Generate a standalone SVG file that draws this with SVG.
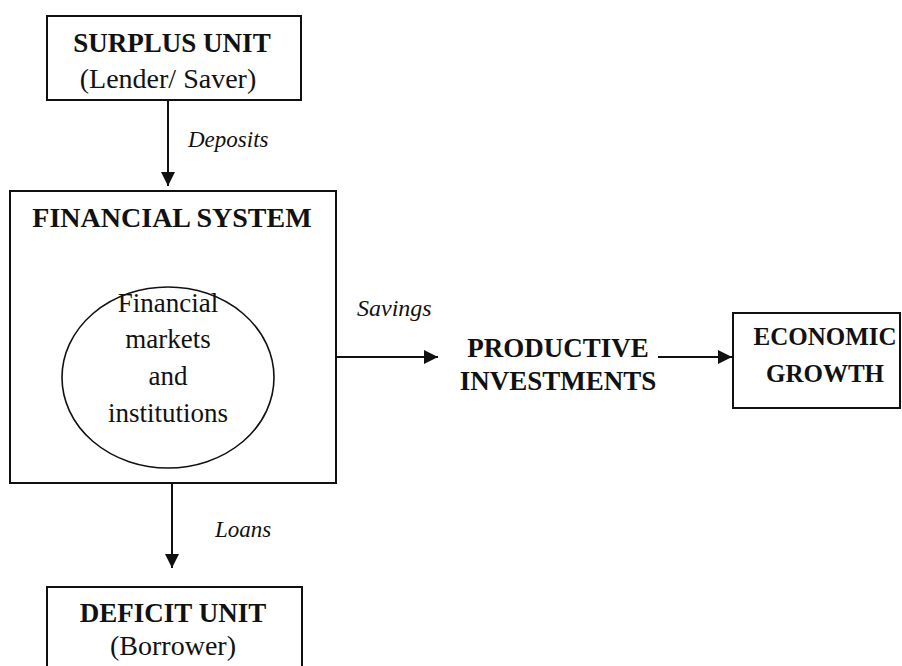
<svg xmlns="http://www.w3.org/2000/svg" width="902" height="666" viewBox="0 0 902 666">
<style>
.box{fill:#fff;stroke:#111;stroke-width:2}
.b{font-family:"Liberation Serif","Times New Roman",serif;font-weight:bold;fill:#111;text-anchor:middle}
.r{font-family:"Liberation Serif","Times New Roman",serif;fill:#111;text-anchor:middle}
.i{font-family:"Liberation Serif","Times New Roman",serif;font-style:italic;fill:#111}
.ln{stroke:#111;stroke-width:2;fill:none}
</style>
<defs>
<marker id="ah" viewBox="0 0 14 14" refX="14" refY="7" markerWidth="14" markerHeight="14" markerUnits="userSpaceOnUse" orient="auto">
<path d="M0,0 L14,7 L0,14 Z" fill="#111"/>
</marker>
</defs>
<rect width="902" height="666" fill="#fff"/>
<g id="surplus">
<rect class="box" x="47" y="16" width="254" height="84"/>
<text class="b" x="172" y="52" font-size="27">SURPLUS UNIT</text>
<text class="r" x="168" y="88" font-size="28">(Lender/ Saver)</text>
</g>
<g id="financial-system">
<rect class="box" x="10" y="191" width="326" height="292"/>
<text class="b" x="172" y="227" font-size="28">FINANCIAL SYSTEM</text>
</g>
<g id="markets">
<ellipse cx="168" cy="377.5" rx="106" ry="90.5" fill="#fff" stroke="#111" stroke-width="1.6"/>
<text class="r" x="168" y="312" font-size="27">Financial</text>
<text class="r" x="168" y="348" font-size="27">markets</text>
<text class="r" x="168" y="385" font-size="27">and</text>
<text class="r" x="168" y="422" font-size="27">institutions</text>
</g>
<g id="productive">
<text class="b" x="558" y="357" font-size="27">PRODUCTIVE</text>
<text class="b" x="558" y="390" font-size="27">INVESTMENTS</text>
</g>
<g id="growth">
<rect class="box" x="733" y="313" width="167" height="95" stroke="#444"/>
<text class="b" x="825" y="345" font-size="25">ECONOMIC</text>
<text class="b" x="825" y="382" font-size="25">GROWTH</text>
</g>
<g id="deficit">
<rect class="box" x="47" y="587" width="255" height="90"/>
<text class="b" x="173" y="622" font-size="27">DEFICIT UNIT</text>
<text class="r" x="173" y="655" font-size="28">(Borrower)</text>
</g>
<g id="connectors">
<line class="ln" x1="168" y1="100" x2="168" y2="186" marker-end="url(#ah)"/>
<text class="i" x="188" y="147" font-size="23">Deposits</text>
<line class="ln" x1="336" y1="357" x2="438" y2="357" marker-end="url(#ah)"/>
<text class="i" x="357" y="316" font-size="24">Savings</text>
<line class="ln" x1="658" y1="357" x2="732" y2="357" marker-end="url(#ah)"/>
<line class="ln" x1="172" y1="483" x2="172" y2="568" marker-end="url(#ah)"/>
<text class="i" x="215" y="537" font-size="23">Loans</text>
</g>
</svg>
